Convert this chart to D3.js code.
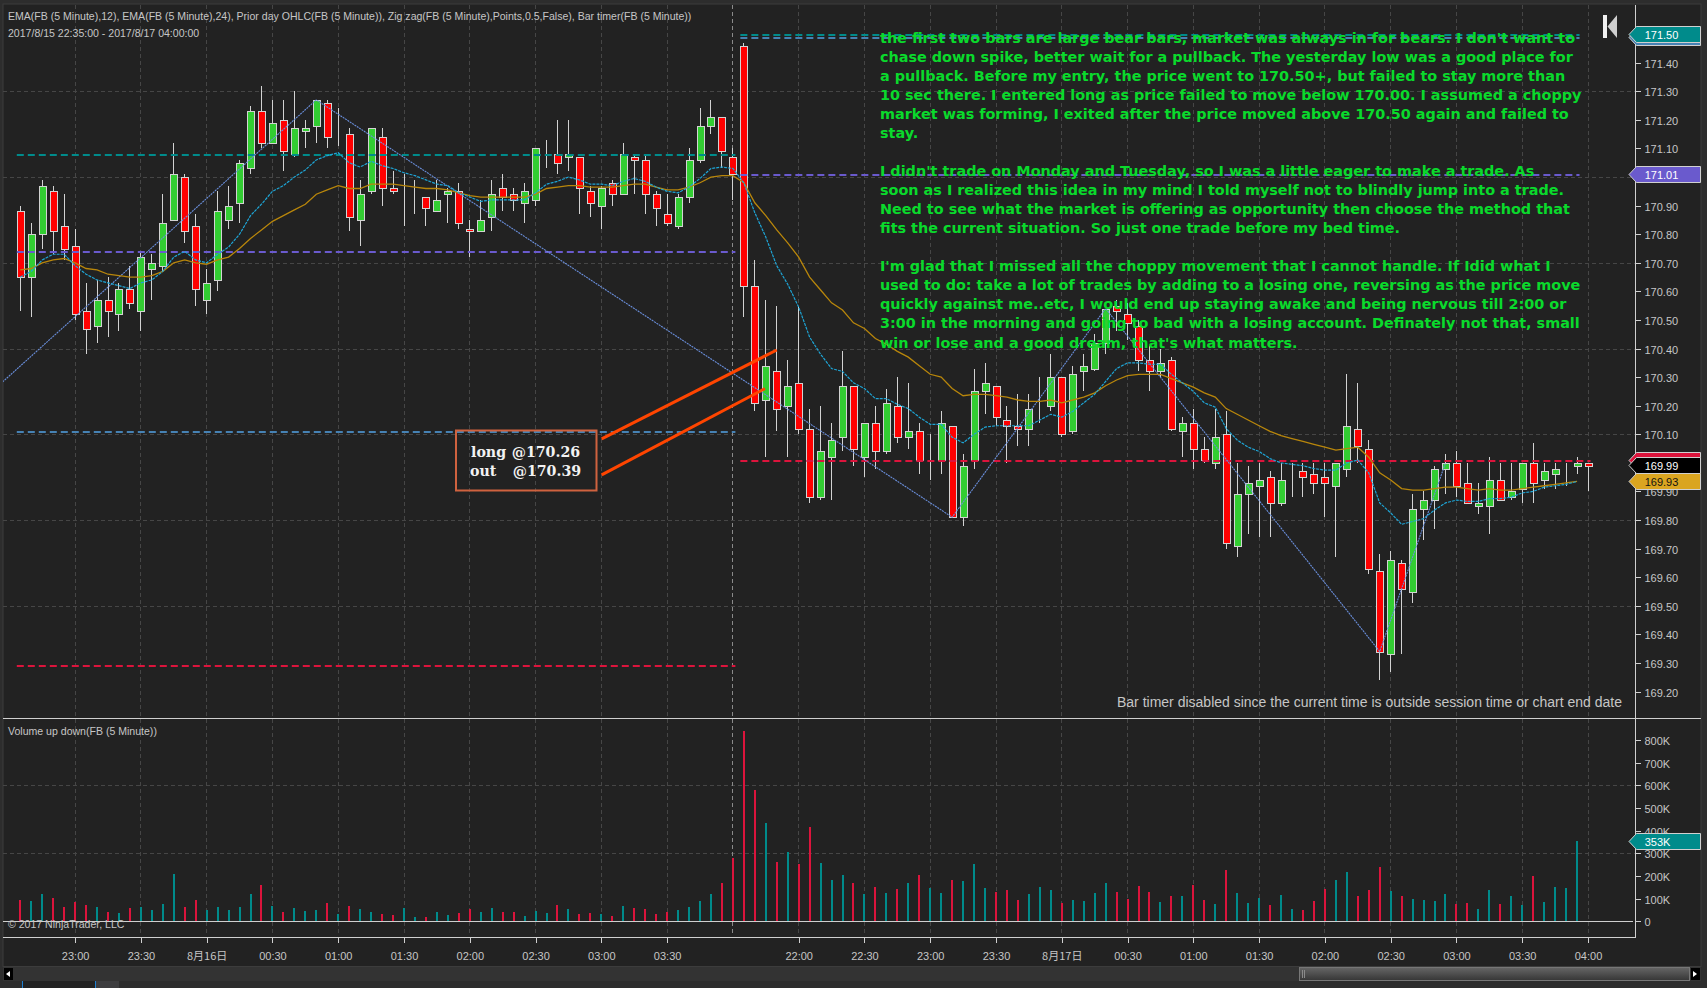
<!DOCTYPE html>
<html><head><meta charset="utf-8">
<script src="https://cdn.jsdelivr.net/npm/d3@7/dist/d3.min.js"></script>
<style>html,body{margin:0;padding:0;background:#2d2d2d;overflow:hidden}svg{display:block}text{font-family:"Liberation Sans",Arial,sans-serif}</style>
</head><body><svg id="c" width="1707" height="988"></svg>
<script>
const highs=[170.90,170.84,170.99,170.97,170.94,170.82,170.63,170.64,170.65,170.63,
170.69,170.74,170.73,170.94,171.12,171.01,170.87,170.68,170.95,170.97,
171.06,171.25,171.32,171.27,171.27,171.30,171.20,171.27,171.27,171.24,
171.17,170.99,171.17,171.17,171.02,171.01,170.99,170.93,170.99,170.96,
170.98,170.85,170.92,170.99,171.01,170.96,170.98,171.10,171.13,171.20,
171.20,171.07,170.97,170.97,170.99,171.12,171.08,171.08,170.95,170.94,
170.94,171.10,171.24,171.27,171.21,171.10,171.47,170.71,170.57,170.55,
170.36,170.55,170.19,170.20,170.14,170.39,170.27,170.14,170.20,170.26,
170.30,170.28,170.14,170.10,170.18,170.13,170.03,170.33,170.35,170.27,
170.20,170.24,170.24,170.30,170.38,170.30,170.34,170.38,170.45,170.54,
170.57,170.56,170.50,170.41,170.40,170.37,170.16,170.19,170.09,170.19,
170.18,170.00,169.99,170.00,169.97,170.00,170.00,170.00,170.00,170.00,
170.00,170.31,170.28,170.08,169.68,169.69,169.66,169.89,169.90,169.99,
170.03,170.04,170.00,169.93,170.02,170.00,170.00,170.00,170.07,170.00,
170.00,170.00,170.02,170.00];
const opens=[170.88,170.65,170.80,170.95,170.83,170.76,170.53,170.48,170.57,170.52,
170.61,170.53,170.68,170.69,170.85,171.00,170.83,170.57,170.64,170.85,
170.91,171.03,171.23,171.12,171.20,171.08,171.16,171.18,171.26,171.15,
171.15,170.85,170.95,171.14,170.96,170.95,170.95,170.93,170.88,170.94,
170.95,170.82,170.81,170.86,170.96,170.94,170.91,170.92,171.10,171.08,
171.07,171.07,170.95,170.90,170.98,170.94,171.07,171.06,170.94,170.87,
170.83,170.93,171.06,171.18,171.21,171.07,171.46,170.62,170.22,170.32,
170.20,170.28,170.12,169.88,170.02,170.09,170.27,170.02,170.14,170.04,
170.20,170.09,170.11,170.01,170.01,170.13,169.81,170.01,170.25,170.27,
170.15,170.13,170.12,170.20,170.20,170.30,170.11,170.32,170.33,170.42,
170.55,170.52,170.48,170.36,170.32,170.36,170.11,170.14,170.05,170.00,
170.10,169.71,169.89,169.92,169.95,169.86,169.96,169.97,169.96,169.95,
169.92,169.98,170.12,170.05,169.62,169.33,169.65,169.55,169.84,169.87,
169.98,170.00,169.93,169.85,169.85,169.94,169.88,169.91,170.00,169.94,
169.96,169.98,169.99,170.00];
const closes=[170.65,170.80,170.97,170.81,170.75,170.52,170.47,170.57,170.53,170.61,
170.56,170.72,170.70,170.84,171.01,170.81,170.61,170.63,170.88,170.90,
171.05,171.23,171.12,171.19,171.09,171.17,171.17,171.27,171.14,171.15,
170.86,170.94,171.17,170.96,170.95,170.95,170.95,170.89,170.92,170.95,
170.84,170.81,170.85,170.94,170.93,170.92,170.95,171.10,171.10,171.05,
171.08,170.96,170.91,170.96,170.94,171.08,171.06,170.94,170.89,170.84,
170.93,171.06,171.18,171.21,171.09,171.01,170.62,170.21,170.34,170.19,
170.27,170.12,169.88,170.04,170.08,170.27,170.05,170.14,170.04,170.21,
170.09,170.11,170.01,170.01,170.14,169.81,169.99,170.25,170.28,170.16,
170.13,170.12,170.19,170.20,170.30,170.10,170.31,170.34,170.42,170.54,
170.53,170.49,170.36,170.32,170.35,170.12,170.14,170.05,170.01,170.09,
169.72,169.89,169.93,169.94,169.86,169.94,169.96,169.95,169.93,169.93,
170.00,170.13,170.06,169.63,169.34,169.66,169.56,169.84,169.87,169.98,
170.00,169.92,169.86,169.86,169.94,169.87,169.90,170.00,169.93,169.97,
169.98,169.98,170.00,169.99];
const lows=[170.53,170.51,170.75,170.73,170.71,170.50,170.38,170.42,170.44,170.46,
170.54,170.46,170.57,170.67,170.85,170.77,170.55,170.52,170.60,170.82,
170.84,171.01,171.10,171.12,171.02,171.07,171.10,171.12,171.10,171.11,
170.81,170.76,170.94,170.90,170.94,170.83,170.87,170.83,170.88,170.84,
170.82,170.72,170.81,170.81,170.88,170.88,170.84,170.90,171.03,171.01,
171.02,170.87,170.86,170.82,170.90,170.94,170.94,170.87,170.83,170.83,
170.82,170.91,171.05,171.15,171.03,170.92,170.51,170.18,170.02,170.11,
170.02,170.10,169.86,169.87,169.87,170.04,169.99,169.95,169.98,170.03,
170.07,170.05,169.96,169.94,169.96,169.81,169.78,169.98,170.17,170.13,
170.00,170.06,170.06,170.14,170.18,170.09,170.10,170.25,170.32,170.38,
170.46,170.43,170.32,170.25,170.30,170.11,170.02,169.98,170.00,169.98,
169.70,169.67,169.75,169.74,169.74,169.85,169.88,169.88,169.89,169.81,
169.67,169.95,170.00,169.61,169.24,169.27,169.33,169.51,169.73,169.77,
169.89,169.88,169.86,169.82,169.75,169.87,169.87,169.86,169.86,169.91,
169.91,169.92,169.96,169.90];
const ema12=[170.65,170.67,170.71,170.73,170.73,170.69,170.66,170.64,170.63,170.62,
170.61,170.63,170.64,170.67,170.72,170.74,170.71,170.70,170.73,170.755,
170.80,170.865,170.905,170.95,170.97,171.00,171.025,171.06,171.075,171.085,
171.05,171.035,171.055,171.04,171.03,171.015,171.005,170.99,170.975,170.97,
170.945,170.93,170.915,170.92,170.92,170.92,170.92,170.945,170.975,170.985,
171.00,170.99,170.975,170.975,170.97,170.985,170.995,170.985,170.965,170.95,
170.945,170.965,170.995,171.03,171.035,171.03,170.98,170.875,170.79,170.69,
170.625,170.545,170.44,170.38,170.33,170.32,170.28,170.26,170.225,170.225,
170.205,170.19,170.16,170.135,170.135,170.09,170.07,170.10,170.125,170.13,
170.13,170.13,170.13,170.15,170.17,170.16,170.18,170.21,170.24,170.285,
170.33,170.35,170.35,170.345,170.345,170.31,170.28,170.25,170.21,170.195,
170.12,170.08,170.055,170.04,170.015,170.00,169.995,169.99,169.98,169.975,
169.975,170.00,170.01,169.965,169.86,169.825,169.785,169.795,169.805,169.835,
169.86,169.87,169.865,169.865,169.875,169.875,169.88,169.895,169.90,169.915,
169.92,169.925,169.935];
const ema24=[170.675,170.68,170.70,170.71,170.715,170.70,170.68,170.675,170.66,170.655,
170.65,170.65,170.655,170.67,170.70,170.71,170.70,170.695,170.71,170.72,
170.75,170.785,170.815,170.845,170.865,170.885,170.905,170.94,170.955,170.97,
170.96,170.96,170.975,170.975,170.975,170.97,170.965,170.96,170.96,170.955,
170.945,170.935,170.93,170.93,170.93,170.93,170.93,170.94,170.96,170.965,
170.97,170.97,170.965,170.965,170.965,170.97,170.975,170.975,170.965,170.955,
170.955,170.965,170.98,171.00,171.005,171.005,170.98,170.91,170.865,170.815,
170.77,170.72,170.65,170.605,170.56,170.535,170.49,170.47,170.435,170.415,
170.39,170.37,170.34,170.31,170.30,170.26,170.235,170.24,170.24,170.235,
170.23,170.22,170.215,170.215,170.22,170.21,170.22,170.23,170.245,170.27,
170.29,170.305,170.31,170.31,170.31,170.295,170.28,170.265,170.245,170.23,
170.19,170.17,170.15,170.13,170.11,170.095,170.085,170.075,170.065,170.055,
170.045,170.05,170.055,170.02,169.965,169.94,169.91,169.905,169.905,169.91,
169.915,169.915,169.91,169.905,169.91,169.905,169.905,169.91,169.915,169.92,
169.925,169.93,169.935];
const volumes=[94,90,120,103,63,85,72,63,41,37,
59,63,50,76,209,63,94,50,63,50,
63,120,160,68,41,59,46,50,81,32,
68,54,41,32,28,59,19,19,41,28,
37,54,41,59,41,41,24,46,37,72,
54,32,37,32,24,68,59,54,32,41,
50,63,90,120,169,279,839,579,432,262,
306,253,416,257,182,204,169,120,151,125,
143,169,204,147,125,182,178,253,147,129,
138,94,120,151,138,81,94,90,125,169,
129,98,156,129,85,112,112,160,94,76,
226,125,81,103,72,116,54,50,90,143,
182,218,112,138,240,134,112,98,94,90,
120,76,81,54,138,76,112,72,200,85,
151,147,353];
const zigIdx=[-2,27,85,99,124,130];
const zigVal=[170.27,171.27,169.81,170.54,169.34,170.00];
const priorFrom=[0,0,0,0,66,66,66,66];
const priorTo=[65,65,65,65,142,142,142,143];
const priorVal=[171.077,170.738,170.108,169.29,171.487,171.497,171.008,170.007];
const priorCol=["#008b8b","#6a5acd","#4682b4","#dc143c","#4682b4","#008b8b","#6a5acd","#dc143c"];
const priceTicks=[169.2,169.3,169.4,169.5,169.6,169.7,169.8,169.9,170.1,170.2,170.3,170.4,170.5,170.6,170.7,170.8,170.9,171.1,171.2,171.3,171.4];
const priceGrid=[171.3,171.0,170.7,170.4,170.1,169.8,169.5];
const volTicks=[0,100,200,300,400,500,600,700,800];
const volGrid=[300,600];
const timeIdx=[5,11,17,23,29,35,41,47,53,59,71,77,83,89,95,101,107,113,119,125,131,137,143];
const timeLbl=["23:00","23:30","8月16日","00:30","01:00","01:30","02:00","02:30","03:00","03:30","22:00","22:30","23:00","23:30","8月17日","00:30","01:00","01:30","02:00","02:30","03:00","03:30","04:00"];
const sessionBreak=65;
const tradeIdxFrom=[53.03,53.03], tradeValFrom=[170.084,169.958];
const tradeIdxTo=[69,67.93], tradeValTo=[170.395,170.26];
const noteLines=["the first two bars are large bear bars, market was always in for bears. I don't want to",
"chase down spike, better wait for a pullback. The yesterday low was a good place for",
"a pullback. Before my entry, the price went to 170.50+, but failed to stay more than",
"10 sec there. I entered long as price failed to move below 170.00. I assumed a choppy",
"market was forming, I exited after the price moved above 170.50 again and failed to",
"stay.","",
"I didn't trade on Monday and Tuesday, so I was a little eager to make a trade. As",
"soon as I realized this idea in my mind I told myself not to blindly jump into a trade.",
"Need to see what the market is offering as opportunity then choose the method that",
"fits the current situation. So just one trade before my bed time.","",
"I'm glad that I missed all the choppy movement that I cannot handle. If Idid what I",
"used to do: take a lot of trades by adding to a losing one, reversing as the price move",
"quickly against me..etc, I would end up staying awake and being nervous till 2:00 or",
"3:00 in the morning and going to bad with a losing account. Definately not that, small",
"win or lose and a good dream, that's what matters."];

const svg=d3.select("#c");
const L=3,R=1701,T=4,AX=1635.5,SPL=718.5,BOT=937.5;
const x=d3.scaleLinear().domain([0,143]).range([20.3,1588]);
const y=d3.scaleLinear().domain([170.1,171.3]).range([434.3,91.3]);
const yv=d3.scaleLinear().domain([0,300]).range([921.3,853.3]);
const px=v=>Math.floor(x(v))+.5;
const GRID="#464646",TXT="#c6c6c6";

svg.append("rect").attr("x",L).attr("y",T).attr("width",R-L).attr("height",966.5-T).attr("fill","#222222").attr("stroke","#3c3c3c");
svg.append("defs").append("clipPath").attr("id","main").append("rect").attr("x",L).attr("y",T).attr("width",AX-L).attr("height",SPL-T);

// grid
const g=svg.append("g").attr("stroke",GRID).attr("stroke-dasharray","4,3").attr("shape-rendering","crispEdges");
g.selectAll(".v").data(timeIdx).join("line").attr("x1",px).attr("x2",px).attr("y1",T+1).attr("y2",932.5);
g.selectAll(".h").data(priceGrid).join("line").attr("x1",L).attr("x2",AX).attr("y1",d=>Math.round(y(d))+.5).attr("y2",d=>Math.round(y(d))+.5);
g.selectAll(".hv").data(volGrid).join("line").attr("x1",L).attr("x2",AX).attr("y1",d=>Math.round(yv(d))+.5).attr("y2",d=>Math.round(yv(d))+.5);
svg.append("line").attr("x1",px(sessionBreak)).attr("x2",px(sessionBreak)).attr("y1",T+1).attr("y2",932.5).attr("stroke","#8a8a8a").attr("stroke-dasharray","4,3").attr("shape-rendering","crispEdges");

// candles
const chart=svg.append("g").attr("clip-path","url(#main)");
const idx=d3.range(highs.length);
const cg=chart.append("g").attr("shape-rendering","crispEdges");
cg.selectAll(".w").data(idx).join("line").attr("x1",px).attr("x2",px).attr("y1",i=>Math.round(y(highs[i]))).attr("y2",i=>Math.round(y(lows[i]))).attr("stroke","#d3d3d3");
cg.selectAll(".b").data(idx).join("rect")
 .attr("x",i=>px(i)-3.5+0).attr("width",7)
 .attr("y",i=>Math.round(y(Math.max(opens[i],closes[i])))+.5)
 .attr("height",i=>Math.max(0,Math.round(y(Math.min(opens[i],closes[i])))-Math.round(y(Math.max(opens[i],closes[i])))))
 .attr("fill",i=>closes[i]>opens[i]?"#32cd32":closes[i]<opens[i]?"#ff0000":"#d3d3d3")
 .attr("stroke","#d3d3d3");

// prior-day lines
chart.selectAll(".p").data(priorVal).join("line")
 .attr("x1",(d,i)=>x(priorFrom[i])-3.5).attr("x2",(d,i)=>x(priorTo[i])+2.5)
 .attr("y1",d=>Math.round(y(d))).attr("y2",d=>Math.round(y(d)))
 .attr("stroke",(d,i)=>priorCol[i]).attr("stroke-width",2).attr("stroke-dasharray","7,4");

// zigzag, EMA
chart.append("path").datum(zigIdx).attr("d",d3.line().x(d=>x(d)).y((d,i)=>y(zigVal[i])))
 .attr("fill","none").attr("stroke","#6a8fdc").attr("stroke-width",1.1).attr("stroke-dasharray","2,0.8");
const ln=d3.line().x((d,i)=>x(i)).y(d=>y(d));
chart.append("path").datum(ema24).attr("d",ln).attr("fill","none").attr("stroke","#b8860b").attr("stroke-width",1.3);
chart.append("path").datum(ema12).attr("d",ln).attr("fill","none").attr("stroke","#1ea5d6").attr("stroke-width",1.2).attr("stroke-dasharray","3,1");

// trade arrows
chart.selectAll(".t").data([0,1]).join("line")
 .attr("x1",i=>x(tradeIdxFrom[i])).attr("y1",i=>y(tradeValFrom[i]))
 .attr("x2",i=>x(tradeIdxTo[i])).attr("y2",i=>y(tradeValTo[i]))
 .attr("stroke","#ff4500").attr("stroke-width",3);

// note text
const note=svg.append("g").attr("fill","#0ada2c").attr("font-weight",700);
note.selectAll("text").data(noteLines).join("text").attr("x",880).attr("y",(d,i)=>42.7+i*19.05)
 .style("font-family","'DejaVu Sans'").style("font-size","14.4px").text(d=>d);

// box
svg.append("rect").attr("x",456).attr("y",430.5).attr("width",140.5).attr("height",60).attr("fill","none").attr("stroke","#cf623f").attr("stroke-width",2);
const bt=svg.append("g").attr("fill","#f2f2f2").attr("font-weight",700);
const btl=(t,xx,yy)=>bt.append("text").attr("x",xx).attr("y",yy).style("font-family","'DejaVu Serif'").style("font-size","14.2px").text(t);
btl("long",471,456.5);btl("@170.26",511.7,456.5);btl("out",470,475.5);btl("@170.39",512.7,475.5);

// volume
svg.append("line").attr("x1",L).attr("x2",1633).attr("y1",921.5).attr("y2",921.5).attr("stroke","#cfcfcf").attr("shape-rendering","crispEdges");
svg.append("g").attr("shape-rendering","crispEdges").selectAll("rect").data(volumes).join("rect")
 .attr("x",(d,i)=>Math.round(x(i))-1).attr("width",2)
 .attr("y",d=>yv(d)).attr("height",d=>yv(0)-yv(d))
 .attr("fill",(d,i)=>closes[i]<opens[i]?"#dc143c":"#008b8b");

// frame lines
const fr=svg.append("g").attr("stroke","#d0d0d0").attr("shape-rendering","crispEdges");
fr.append("line").attr("x1",L).attr("x2",R).attr("y1",SPL).attr("y2",SPL);
fr.append("line").attr("x1",L).attr("x2",AX).attr("y1",BOT).attr("y2",BOT);
fr.append("line").attr("x1",AX).attr("x2",AX).attr("y1",T+1).attr("y2",BOT);

// axes
function styleAxis(s,size,dy){s.select(".domain").remove();s.selectAll("line").attr("stroke","#d0d0d0").attr("shape-rendering","crispEdges");
 s.selectAll("text").attr("fill",TXT).style("font-family","'Liberation Sans'").style("font-size",size);
 if(dy)s.selectAll("text").attr("transform",`translate(0,${dy})`);}
svg.append("g").attr("transform",`translate(${AX},0)`)
 .call(d3.axisRight(y).tickValues(priceTicks).tickFormat(d3.format(".2f")).tickSize(5).tickPadding(4)).call(styleAxis,"11px",1);
svg.append("g").attr("transform",`translate(${AX},0)`)
 .call(d3.axisRight(yv).tickValues(volTicks).tickFormat(d=>d?d+"K":"0").tickSize(5).tickPadding(4)).call(styleAxis,"11px",1);
const xa=svg.append("g").attr("transform",`translate(0,${BOT})`)
 .call(d3.axisBottom(x).tickValues(timeIdx).tickFormat((d,i)=>timeLbl[i]).tickSize(5).tickPadding(10)).call(styleAxis,"11px");
xa.selectAll("text").filter(d=>timeLbl[timeIdx.indexOf(d)].includes("月")).style("font-family","'Noto Sans CJK SC'");

// tags
function tag(y0,y1,fill,txt,col){const m=(y0+y1)/2;
 svg.append("path").attr("d",`M${AX+1} ${y0}H${R-.5}V${y1}H${AX+1}L1629 ${m}Z`).attr("fill",fill).attr("stroke","#d0d0d0");
 if(txt)svg.append("text").attr("x",1644.7).attr("y",m+4).attr("fill",col).style("font-size","11px").text(txt);}
tag(29.5,45.5,"#4682b4");
tag(26.5,42.5,"#008b8b","171.50","#fff");
tag(166.5,182.5,"#6a5acd","171.01","#fff");
tag(452.5,468.5,"#dc143c");
tag(457.5,473.5,"#000000","169.99","#fff");
tag(473.5,489.5,"#daa520","169.93","#111");
tag(833.5,849.5,"#008b8b","353K","#fff");

// labels
const lab=(t,xx,yy,fs,c)=>svg.append("text").attr("x",xx).attr("y",yy).attr("fill",c||TXT).style("font-size",fs).text(t);
lab("EMA(FB (5 Minute),12), EMA(FB (5 Minute),24), Prior day OHLC(FB (5 Minute)), Zig zag(FB (5 Minute),Points,0.5,False), Bar timer(FB (5 Minute))",8,20,"10.56px");
lab("2017/8/15 22:35:00 - 2017/8/17 04:00:00",8,37,"10.56px");
lab("Volume up down(FB (5 Minute))",8,735,"10.56px");
lab("© 2017 NinjaTrader, LLC",8,928,"10.56px");
lab("Bar timer disabled since the current time is outside session time or chart end date",1117,707,"14px");

// nav icon
svg.append("rect").attr("x",1603).attr("y",15).attr("width",4).attr("height",23).attr("fill","#f0f0f0");
svg.append("path").attr("d","M1617 15V38L1607.5 26.5Z").attr("fill","#cfcfcf");

// scrollbar
svg.append("rect").attr("x",L).attr("y",967).attr("width",R-L).attr("height",14).attr("fill","#333333");
const grad=svg.select("defs").append("linearGradient").attr("id","th").attr("x1",0).attr("x2",0).attr("y1",0).attr("y2",1);
grad.append("stop").attr("offset",0).attr("stop-color","#666666");grad.append("stop").attr("offset",1).attr("stop-color","#363636");
svg.append("rect").attr("x",1299.5).attr("y",967.5).attr("width",390).attr("height",13).attr("fill","url(#th)").attr("stroke","#777");
svg.append("g").attr("stroke","#8a8a8a").attr("shape-rendering","crispEdges").selectAll("line").data([1302,1304]).join("line").attr("x1",d=>d+.5).attr("x2",d=>d+.5).attr("y1",970).attr("y2",978);
svg.append("rect").attr("x",4).attr("y",968).attr("width",9).attr("height",12).attr("fill","#000");
svg.append("path").attr("d","M6 974L10 971V977Z").attr("fill","#fff");
svg.append("rect").attr("x",1691).attr("y",968).attr("width",9).attr("height",12).attr("fill","#000");
svg.append("path").attr("d","M1697 974L1693 971V977Z").attr("fill","#fff");
// tab strip
svg.append("rect").attr("x",22).attr("y",981).attr("width",74).attr("height",7).attr("fill","#222");
svg.append("rect").attr("x",22).attr("y",981).attr("width",1).attr("height",7).attr("fill","#1e7fd0");
svg.append("rect").attr("x",95).attr("y",981).attr("width",1).attr("height",7).attr("fill","#1e7fd0");
svg.append("rect").attr("x",96).attr("y",981).attr("width",23).attr("height",7).attr("fill","#3d3d3f");
</script></body></html>
